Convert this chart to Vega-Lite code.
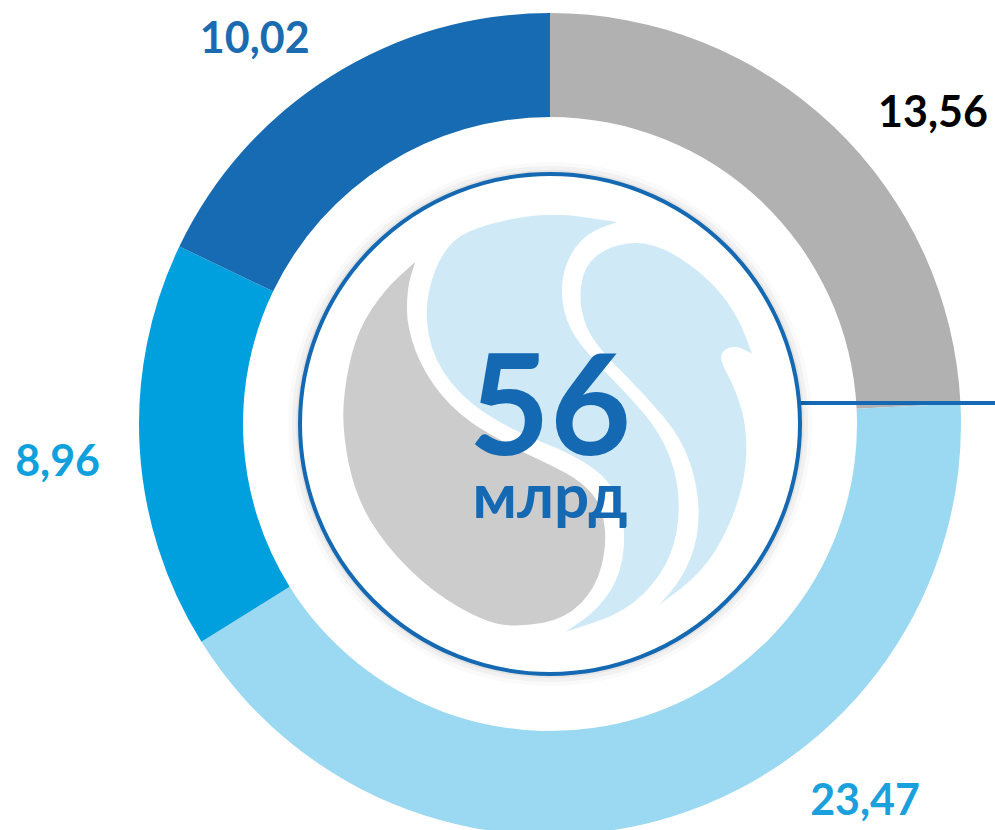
{
  "$schema": "https://vega.github.io/schema/vega-lite/v6.json",
  "width": 890,
  "height": 812,
  "autosize": {"type": "none"},
  "padding": {"left": 105, "top": 18, "right": 0, "bottom": 0},
  "background": "white",
  "config": {"view": {"stroke": null}},
  "data": {
    "values": [
      {"label": "13,56", "value": 13.56, "rank": 1},
      {"label": "23,47", "value": 23.47, "rank": 2},
      {"label": "8,96", "value": 8.96, "rank": 3},
      {"label": "10,02", "value": 10.02, "rank": 4}
    ]
  },
  "layer": [
    {
      "mark": {"type": "arc", "innerRadius": 307, "outerRadius": 411},
      "encoding": {
        "theta": {"field": "value", "type": "quantitative", "stack": true},
        "order": {"field": "rank", "type": "quantitative"},
        "color": {
          "field": "label",
          "type": "nominal",
          "scale": {"domain": ["13,56", "23,47", "8,96", "10,02"], "range": ["#B1B1B1", "#9BD8F1", "#00A0DF", "#166BB3"]},
          "legend": null
        }
      }
    },
    {
      "mark": {"type": "text", "radius": 493, "thetaOffset": 0.129, "font": "Lato, Open Sans", "fontSize": 43, "fontWeight": "bold", "color": "#000000", "align": "center", "baseline": "middle"},
      "encoding": {
        "theta": {"field": "value", "type": "quantitative", "stack": true},
        "order": {"field": "rank", "type": "quantitative"},
        "text": {"field": "label"},
        "opacity": {"condition": {"test": "datum.label === '13,56'", "value": 1}, "value": 0}
      }
    },
    {
      "mark": {"type": "text", "radius": 492, "thetaOffset": -0.391, "font": "Lato, Open Sans", "fontSize": 43, "fontWeight": "bold", "color": "#1AA0DC", "align": "center", "baseline": "middle"},
      "encoding": {
        "theta": {"field": "value", "type": "quantitative", "stack": true},
        "order": {"field": "rank", "type": "quantitative"},
        "text": {"field": "label"},
        "opacity": {"condition": {"test": "datum.label === '23,47'", "value": 1}, "value": 0}
      }
    },
    {
      "mark": {"type": "text", "radius": 494, "thetaOffset": -0.024, "font": "Lato, Open Sans", "fontSize": 43, "fontWeight": "bold", "color": "#10A0DC", "align": "center", "baseline": "middle"},
      "encoding": {
        "theta": {"field": "value", "type": "quantitative", "stack": true},
        "order": {"field": "rank", "type": "quantitative"},
        "text": {"field": "label"},
        "opacity": {"condition": {"test": "datum.label === '8,96'", "value": 1}, "value": 0}
      }
    },
    {
      "mark": {"type": "text", "radius": 484, "thetaOffset": -0.094, "font": "Lato, Open Sans", "fontSize": 43, "fontWeight": "bold", "color": "#1B6BB0", "align": "center", "baseline": "middle"},
      "encoding": {
        "theta": {"field": "value", "type": "quantitative", "stack": true},
        "order": {"field": "rank", "type": "quantitative"},
        "text": {"field": "label"},
        "opacity": {"condition": {"test": "datum.label === '10,02'", "value": 1}, "value": 0}
      }
    },
    {
      "data": {"values": [{"part": "line"}]},
      "mark": {"type": "point", "shape": "M 1.0 -0.084 L 1.85 -0.084", "size": 252004, "filled": false, "fill": null, "stroke": "#1569B2", "strokeWidth": 4, "opacity": 1},
      "encoding": {}
    },
    {
      "data": {"values": [{"part": "shadow"}]},
      "mark": {"type": "point", "shape": "circle", "size": 274576, "filled": true, "fill": "#000000", "stroke": null, "opacity": 0.02},
      "encoding": {}
    },
    {
      "data": {"values": [{"part": "shadow"}]},
      "mark": {"type": "point", "shape": "circle", "size": 266256, "filled": true, "fill": "#000000", "stroke": null, "opacity": 0.035},
      "encoding": {}
    },
    {
      "data": {"values": [{"part": "shadow"}]},
      "mark": {"type": "point", "shape": "circle", "size": 258064, "filled": true, "fill": "#000000", "stroke": null, "opacity": 0.05},
      "encoding": {}
    },
    {
      "data": {"values": [{"part": "circle"}]},
      "mark": {"type": "point", "shape": "circle", "size": 250000, "filled": true, "fill": "#FFFFFF", "stroke": "#1569B2", "strokeWidth": 4, "opacity": 1},
      "encoding": {}
    },
    {
      "data": {"values": [{"part": "logo-gray"}]},
      "mark": {
        "type": "point",
        "shape": "M -0.537 -0.645 L -0.597 -0.592 Q -0.656 -0.539 -0.709 -0.460 Q -0.762 -0.380 -0.789 -0.281 Q -0.815 -0.181 -0.822 -0.081 Q -0.829 0.019 -0.803 0.152 Q -0.776 0.284 -0.716 0.384 Q -0.656 0.483 -0.563 0.576 Q -0.470 0.669 -0.364 0.729 Q -0.258 0.789 -0.192 0.799 Q -0.125 0.809 -0.032 0.793 Q 0.061 0.776 0.121 0.716 Q 0.181 0.656 0.204 0.570 Q 0.227 0.483 0.217 0.404 Q 0.207 0.324 0.167 0.278 Q 0.127 0.231 0.068 0.198 Q 0.008 0.165 -0.079 0.125 Q -0.165 0.085 -0.265 0.025 Q -0.364 -0.035 -0.431 -0.115 Q -0.497 -0.194 -0.534 -0.287 Q -0.570 -0.380 -0.570 -0.460 Q -0.570 -0.539 -0.554 -0.592 L -0.537 -0.645 Z",
        "size": 252004, "filled": true, "fill": "#CCCCCC", "stroke": null, "opacity": 1
      },
      "encoding": {}
    },
    {
      "data": {"values": [{"part": "logo-blue-left"}]},
      "mark": {
        "type": "point",
        "shape": "M 0.267 -0.805 L 0.204 -0.782 Q 0.141 -0.758 0.101 -0.702 Q 0.061 -0.645 0.051 -0.579 Q 0.041 -0.513 0.058 -0.447 Q 0.074 -0.380 0.121 -0.320 Q 0.167 -0.260 0.240 -0.187 Q 0.313 -0.114 0.380 -0.035 Q 0.446 0.045 0.480 0.138 Q 0.513 0.231 0.513 0.331 Q 0.513 0.430 0.480 0.517 Q 0.446 0.603 0.373 0.676 Q 0.300 0.749 0.181 0.789 L 0.061 0.829 L 0.128 0.783 Q 0.194 0.736 0.241 0.663 Q 0.287 0.590 0.294 0.490 Q 0.300 0.390 0.274 0.311 Q 0.247 0.231 0.174 0.178 Q 0.101 0.125 -0.032 0.072 Q -0.165 0.019 -0.265 -0.048 Q -0.364 -0.114 -0.424 -0.207 Q -0.483 -0.300 -0.490 -0.407 Q -0.497 -0.513 -0.457 -0.613 Q -0.417 -0.712 -0.351 -0.752 Q -0.284 -0.791 -0.145 -0.818 Q -0.005 -0.845 0.131 -0.825 L 0.267 -0.805 Z",
        "size": 252004, "filled": true, "fill": "#CFEAF6", "stroke": null, "opacity": 1
      },
      "encoding": {}
    },
    {
      "data": {"values": [{"part": "logo-blue-right"}]},
      "mark": {
        "type": "point",
        "shape": "M 0.433 0.722 L 0.520 0.656 Q 0.606 0.590 0.659 0.504 Q 0.712 0.417 0.745 0.318 Q 0.778 0.218 0.782 0.119 Q 0.785 0.019 0.762 -0.061 Q 0.738 -0.141 0.709 -0.194 Q 0.679 -0.247 0.682 -0.270 Q 0.685 -0.293 0.712 -0.303 Q 0.738 -0.313 0.772 -0.297 L 0.805 -0.280 L 0.779 -0.350 Q 0.752 -0.420 0.706 -0.486 Q 0.659 -0.552 0.593 -0.606 Q 0.526 -0.659 0.473 -0.686 Q 0.420 -0.712 0.374 -0.719 Q 0.327 -0.725 0.274 -0.712 Q 0.220 -0.699 0.181 -0.666 Q 0.141 -0.632 0.128 -0.573 Q 0.114 -0.513 0.128 -0.447 Q 0.141 -0.380 0.181 -0.327 Q 0.220 -0.274 0.300 -0.194 Q 0.380 -0.114 0.453 -0.028 Q 0.526 0.058 0.559 0.158 Q 0.592 0.258 0.592 0.358 Q 0.592 0.457 0.559 0.537 Q 0.526 0.616 0.480 0.669 L 0.433 0.722 Z",
        "size": 252004, "filled": true, "fill": "#CFEAF6", "stroke": null, "opacity": 1
      },
      "encoding": {}
    },
    {
      "data": {"values": [{"total": "56", "unit": "млрд"}]},
      "mark": {"type": "text", "font": "Lato, Open Sans", "fontSize": 140, "fontWeight": "bold", "color": "#1569B2", "align": "center", "baseline": "alphabetic", "dy": 31},
      "encoding": {"text": {"field": "total"}}
    },
    {
      "data": {"values": [{"total": "56", "unit": "млрд"}]},
      "mark": {"type": "text", "font": "Lato, Open Sans", "fontSize": 62, "fontWeight": "bold", "color": "#1569B2", "align": "center", "baseline": "alphabetic", "dy": 94},
      "encoding": {"text": {"field": "unit"}}
    }
  ]
}
